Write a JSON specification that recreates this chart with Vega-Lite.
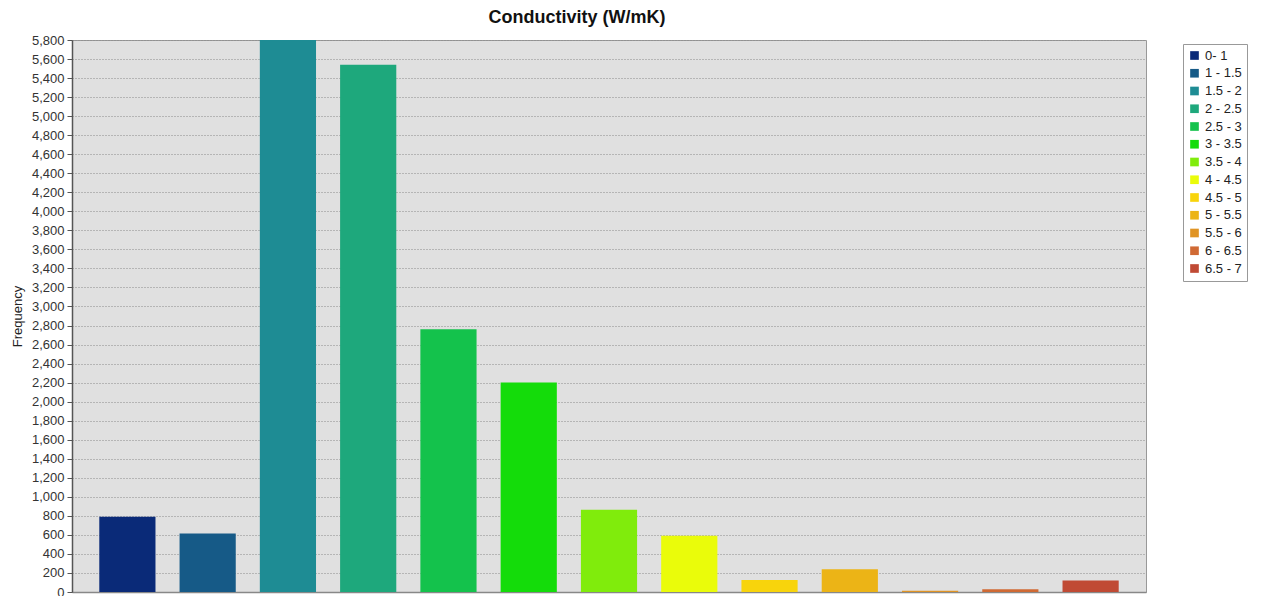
{
  "$schema": "https://vega.github.io/schema/vega-lite/v6.json",
  "autosize": "none",
  "width": 1074,
  "height": 552,
  "padding": {"left": 72, "top": 40, "right": 115, "bottom": 4},
  "background": "white",
  "title": {
    "text": "Conductivity (W/mK)",
    "font": "Liberation Sans",
    "fontSize": 18,
    "fontWeight": "bold",
    "color": "#111111",
    "anchor": "middle",
    "dx": -32,
    "offset": 7
  },
  "data": {
    "values": [
      {"range": "0- 1", "count": 790},
      {"range": "1 - 1.5", "count": 615},
      {"range": "1.5 - 2", "count": 5900},
      {"range": "2 - 2.5", "count": 5540},
      {"range": "2.5 - 3", "count": 2760},
      {"range": "3 - 3.5", "count": 2200},
      {"range": "3.5 - 4", "count": 865},
      {"range": "4 - 4.5", "count": 590},
      {"range": "4.5 - 5", "count": 125},
      {"range": "5 - 5.5", "count": 240},
      {"range": "5.5 - 6", "count": 12},
      {"range": "6 - 6.5", "count": 30},
      {"range": "6.5 - 7", "count": 120}
    ]
  },
  "mark": {"type": "bar", "clip": true},
  "encoding": {
    "x": {
      "field": "range",
      "type": "nominal",
      "sort": null,
      "scale": {"paddingInner": 0.3, "paddingOuter": 0.34},
      "axis": {
        "labels": false,
        "ticks": false,
        "title": null,
        "domainColor": "#888888",
        "domainWidth": 1.5
      }
    },
    "y": {
      "field": "count",
      "type": "quantitative",
      "scale": {"domain": [0, 5800], "nice": false},
      "axis": {
        "title": "Frequency",
        "titleFont": "Liberation Sans",
        "titleFontSize": 13,
        "titleFontWeight": "normal",
        "titleColor": "#222222",
        "titlePadding": 7,
        "values": [0,200,400,600,800,1000,1200,1400,1600,1800,2000,2200,2400,2600,2800,3000,3200,3400,3600,3800,4000,4200,4400,4600,4800,5000,5200,5400,5600,5800],
        "format": ",d",
        "labelFont": "Liberation Sans",
        "labelFontSize": 13,
        "labelColor": "#333333",
        "labelPadding": 3,
        "tickSize": 5,
        "tickColor": "#555555",
        "domainColor": "#555555",
        "domainWidth": 1.5,
        "gridColor": "#8a8a8a",
        "gridDash": [1, 2],
        "gridWidth": 1
      }
    },
    "color": {
      "field": "range",
      "type": "nominal",
      "scale": {
        "domain": ["0- 1", "1 - 1.5", "1.5 - 2", "2 - 2.5", "2.5 - 3", "3 - 3.5", "3.5 - 4", "4 - 4.5", "4.5 - 5", "5 - 5.5", "5.5 - 6", "6 - 6.5", "6.5 - 7"],
        "range": ["#0a2a78", "#165a87", "#1e8c94", "#1ea87c", "#14c24c", "#14dc0a", "#80ec0c", "#eafc0a", "#f8d40c", "#ecb416", "#e09424", "#d06a34", "#c04a34"]
      },
      "legend": {
        "title": null,
        "orient": "none",
        "legendX": 1111,
        "legendY": 4,
        "symbolType": "square",
        "symbolSize": 75,
        "symbolStrokeWidth": 0,
        "labelFont": "Liberation Sans",
        "labelFontSize": 13,
        "labelColor": "#222222",
        "labelOffset": 4,
        "rowPadding": 3.75,
        "padding": 5,
        "strokeColor": "#999999",
        "fillColor": "white"
      }
    }
  },
  "config": {
    "view": {"fill": "#e0e0e0", "stroke": "#999999", "strokeWidth": 1}
  }
}
